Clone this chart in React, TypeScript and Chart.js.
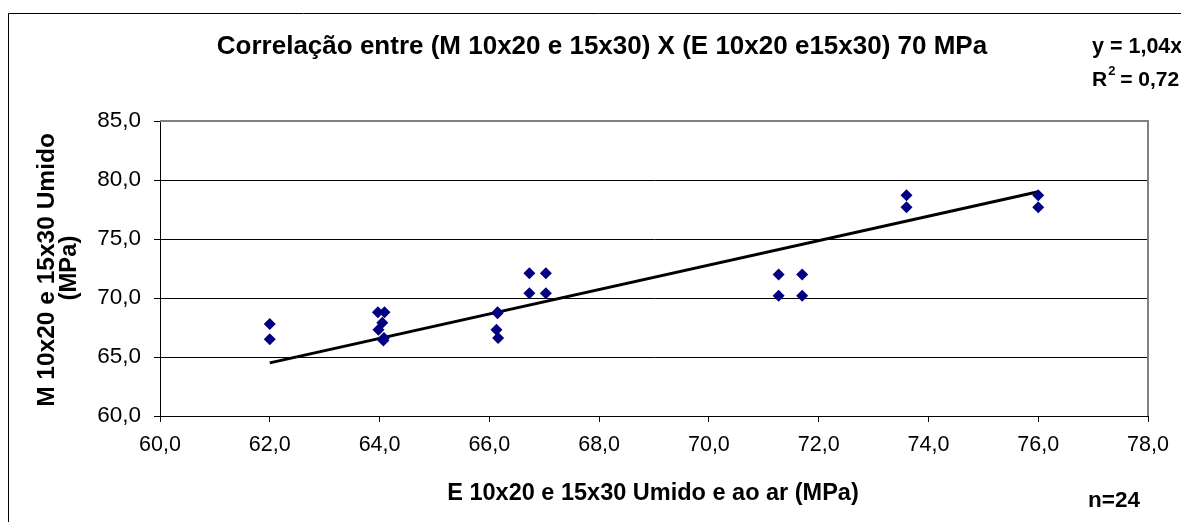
import React, { useEffect, useRef } from "react";
import { Chart, registerables } from "chart.js";

Chart.register(...registerables);

const chartTitle = "Correlação entre (M 10x20 e 15x30) X (E 10x20 e15x30) 70 MPa";
const xAxisTitle = "E 10x20 e 15x30 Umido e ao ar (MPa)";
const yAxisTitleLines = ["M 10x20 e 15x30 Umido", "(MPa)"];
const equationText = "y = 1,04x";
const r2Value = "0,72";
const nText = "n=24";

const xValues = [62.0, 62.0, 63.97, 64.09, 64.05, 63.98, 64.07, 64.08, 66.15, 66.15, 66.13, 66.16, 66.73, 67.03, 66.73, 67.03, 71.27, 71.7, 71.27, 71.7, 73.6, 73.6, 76.0, 76.0];
const yValues = [67.8, 66.5, 68.8, 68.8, 67.9, 67.3, 66.4, 66.6, 68.8, 68.7, 67.3, 66.6, 72.1, 72.1, 70.4, 70.4, 72.0, 72.0, 70.2, 70.2, 78.7, 77.7, 78.7, 77.7];

const trendX = [62.0, 76.0];
const trendY = [64.5, 79.0];

const xMin = 60, xMax = 78, xStep = 2;
const yMin = 60, yMax = 85, yStep = 5;

const FONT = "'Liberation Sans', Arial, sans-serif";

const fmt = (v: number) => Number(v).toFixed(1).replace(".", ",");

export default function App() {
  const ref = useRef<HTMLCanvasElement | null>(null);

  useEffect(() => {
    if (!ref.current) return;
    const textPlugin = {
      id: "textPlugin",
      beforeDraw(chart: any) {
        const ctx = chart.ctx;
        ctx.save();
        ctx.fillStyle = "#fff";
        ctx.fillRect(0, 0, chart.width, chart.height);
        ctx.strokeStyle = "#000";
        ctx.lineWidth = 1;
        ctx.beginPath();
        ctx.moveTo(0.5, chart.height);
        ctx.lineTo(0.5, 5.5);
        ctx.lineTo(chart.width, 5.5);
        ctx.stroke();
        ctx.restore();
      },
      afterDraw(chart: any) {
        const ctx = chart.ctx;
        const a = chart.chartArea;
        ctx.save();
        ctx.strokeStyle = "#808080";
        ctx.lineWidth = 2;
        ctx.beginPath();
        ctx.moveTo(a.left, a.top);
        ctx.lineTo(a.right, a.top);
        ctx.lineTo(a.right, a.bottom);
        ctx.stroke();

        ctx.fillStyle = "#000";
        ctx.textBaseline = "middle";
        ctx.textAlign = "center";
        ctx.font = `bold 26px ${FONT}`;
        ctx.fillText(chartTitle, 594, 39);
        ctx.font = `bold 23.5px ${FONT}`;
        ctx.fillText(xAxisTitle, 645, 486);
        ctx.font = `bold 22.5px ${FONT}`;
        ctx.fillText(nText, 1106, 493);

        ctx.textAlign = "left";
        ctx.font = `bold 21.5px ${FONT}`;
        ctx.fillText(equationText, 1084, 39);
        ctx.font = `bold 21px ${FONT}`;
        ctx.fillText("R", 1084, 72);
        const rw = ctx.measureText("R").width;
        ctx.font = `bold 13px ${FONT}`;
        ctx.fillText("2", 1084 + rw + 1, 63);
        const sw = ctx.measureText("2").width;
        ctx.font = `bold 21px ${FONT}`;
        ctx.fillText(" = " + r2Value, 1084 + rw + sw, 72);

        ctx.save();
        ctx.translate(39, 262);
        ctx.rotate(-Math.PI / 2);
        ctx.textAlign = "center";
        ctx.font = `bold 24.5px ${FONT}`;
        ctx.fillText(yAxisTitleLines[0], 0, 0);
        ctx.restore();
        ctx.save();
        ctx.translate(61, 260);
        ctx.rotate(-Math.PI / 2);
        ctx.textAlign = "center";
        ctx.font = `bold 23.8px ${FONT}`;
        ctx.fillText(yAxisTitleLines[1], 0, 0);
        ctx.restore();
        ctx.restore();
      },
    };

    const chart = new Chart(ref.current, {
      type: "scatter",
      data: {
        datasets: [
          {
            label: "pontos",
            data: xValues.map((x, i) => ({ x, y: yValues[i] })),
            pointStyle: "rectRot",
            pointRadius: 6,
            backgroundColor: "#000080",
            borderColor: "#000080",
            borderWidth: 0,
            showLine: false,
          },
          {
            label: "tendência",
            type: "line",
            data: trendX.map((x, i) => ({ x, y: trendY[i] })),
            borderColor: "#000",
            borderWidth: 3,
            pointRadius: 0,
            fill: false,
          } as any,
        ],
      },
      options: {
        animation: false,
        responsive: true,
        maintainAspectRatio: false,
        layout: { padding: { top: 113, right: 41, left: 0, bottom: 0 } },
        plugins: { legend: { display: false }, tooltip: { enabled: false }, title: { display: false } },
        scales: {
          x: {
            type: "linear",
            min: xMin,
            max: xMax,
            ticks: {
              stepSize: xStep,
              color: "#000",
              font: { family: FONT, size: 21.5 },
              padding: 10,
              callback: (v: any) => fmt(v),
              maxRotation: 0,
            },
            grid: { drawOnChartArea: false, drawTicks: true, tickLength: 6, tickColor: "#000" },
            border: { color: "#000", width: 1 },
            afterFit: (s: any) => { s.height = 106; },
          },
          y: {
            type: "linear",
            min: yMin,
            max: yMax,
            ticks: {
              stepSize: yStep,
              color: "#000",
              font: { family: FONT, size: 22.5 },
              padding: 13,
              callback: (v: any) => fmt(v),
            },
            grid: {
              color: (c: any) => (c.tick && c.tick.value === yMax ? "rgba(0,0,0,0)" : "#000"),
              lineWidth: 1,
              drawTicks: true,
              tickLength: 6,
              tickColor: "#000",
            },
            border: { color: "#000", width: 1 },
            afterFit: (s: any) => { s.width = 152; },
          },
        },
      },
      plugins: [textPlugin],
    });
    return () => chart.destroy();
  }, []);

  return (
    <div style={{ width: 1181, height: 514 }}>
      <canvas ref={ref} />
    </div>
  );
}
